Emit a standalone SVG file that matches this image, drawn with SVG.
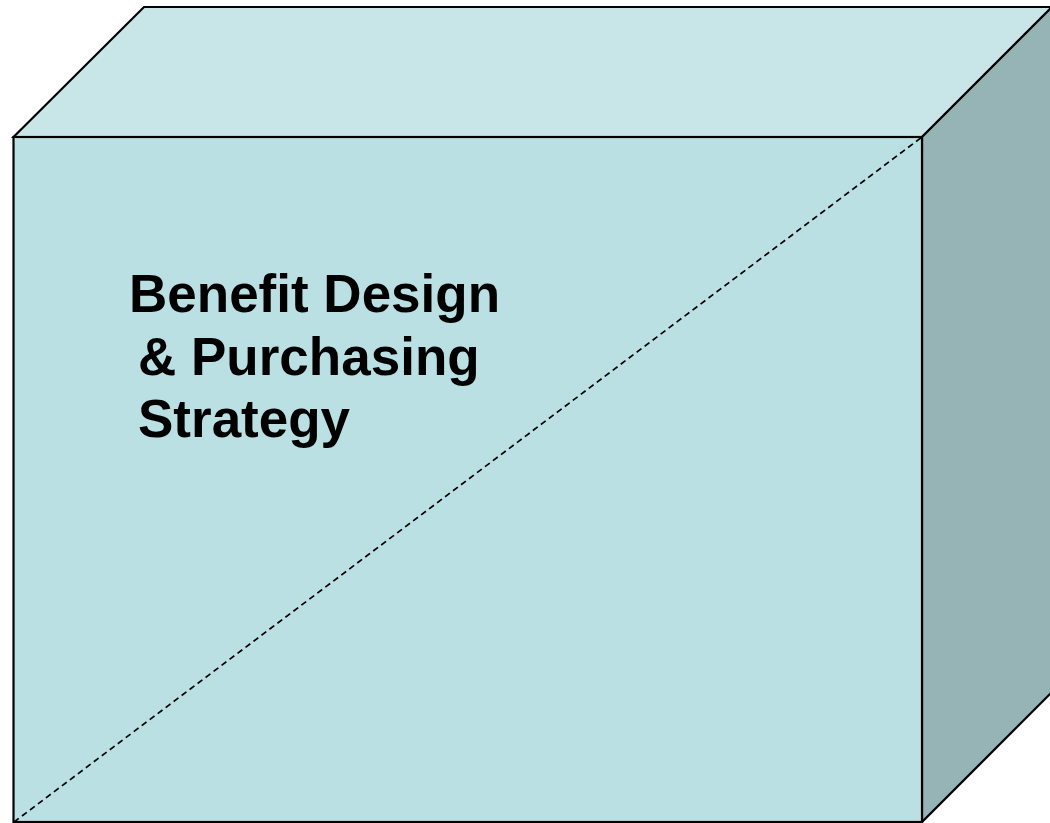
<svg xmlns="http://www.w3.org/2000/svg" width="1050" height="823" viewBox="0 0 1050 823">
<style>
.edge{stroke:#000;stroke-width:2.2;stroke-linejoin:miter}
.lbl{font-family:"Liberation Sans",Arial,sans-serif;font-weight:bold;font-size:53px;fill:#000}
</style>
<rect width="1050" height="823" fill="#fff"/>
<g id="cube">
<polygon class="edge" points="13.5,137 144,7 1052,7 922,137" fill="#C8E6E8"/>
<polygon class="edge" points="922,137 1052,7 1052,692 922,822" fill="#96B3B6"/>
<rect class="edge" x="13.5" y="137" width="908.5" height="685" fill="#BAE0E3"/>
</g>
<g id="connectors">
<line x1="14" y1="822" x2="922" y2="137" stroke="#000" stroke-width="1.7" stroke-dasharray="6,4"/>
</g>
<g id="label">
<text class="lbl" x="129" y="312">Benefit Design</text>
<text class="lbl" x="138" y="375">&amp; Purchasing</text>
<text class="lbl" x="138" y="437">Strategy</text>
</g>
</svg>
